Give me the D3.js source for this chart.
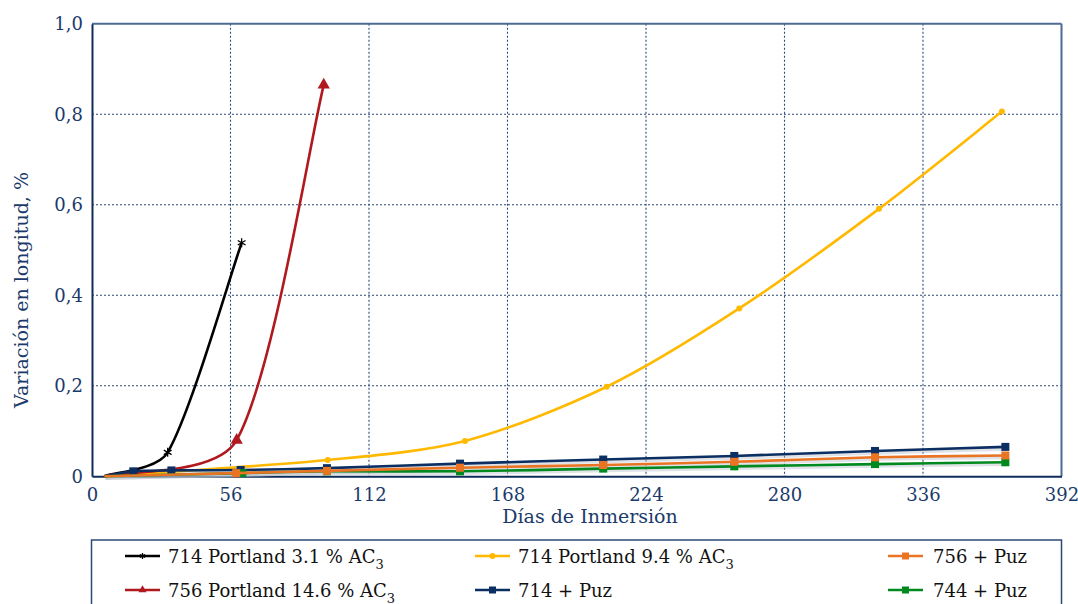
<!DOCTYPE html>
<html><head><meta charset="utf-8">
<script src="https://cdn.jsdelivr.net/npm/d3@7"></script>
<style>body{margin:0;background:#fff}svg{display:block}</style>
</head><body>
<svg id="c" width="1078" height="604"></svg>
<script>
// ---- data ----
const xTicks = [0, 56, 112, 168, 224, 280, 336, 392];
const yTicks = [0, 0.2, 0.4, 0.6, 0.8, 1.0];
const yTickLabels = ["0", "0,2", "0,4", "0,6", "0,8", "1,0"];
const xTitle = "Días de Inmersión";
const yTitle = "Variación en longitud, %";

const blackDays = [5, 30.6, 60.5];
const blackVals = [0, 0.053, 0.516];
const redDays = [5, 58.5, 93.7];
const redVals = [0, 0.080, 0.865];
const yellowDays = [5, 95.3, 150.8, 208.1, 261.7, 318.2, 367.9];
const yellowVals = [0, 0.036, 0.078, 0.198, 0.371, 0.591, 0.806];
const navyDays = [5, 16.7, 32.1, 60.1, 95, 148.8, 206.7, 259.7, 316.6, 369.3];
const navyVals = [0, 0.011, 0.013, 0.014, 0.018, 0.028, 0.037, 0.045, 0.056, 0.065];
const orangeDays = [5, 58.3, 95, 148.8, 206.7, 259.7, 316.6, 369.3];
const orangeVals = [0, 0.007, 0.012, 0.019, 0.025, 0.032, 0.042, 0.046];
const greenDays = [5, 60.8, 95, 148.8, 206.7, 259.7, 316.6, 369.3];
const greenVals = [0, 0.007, 0.011, 0.011, 0.017, 0.022, 0.027, 0.031];

const seriesNames = ["714 Portland 3.1 % AC", "714 Portland 9.4 % AC", "756 + Puz",
                     "756 Portland 14.6 % AC", "714 + Puz", "744 + Puz"];
const seriesSubs = ["3", "3", "", "3", "", ""];

// ---- build ----
const colors = {black:"#000000", yellow:"#ffb900", orange:"#e97424", red:"#b0191e", navy:"#0b2f62", green:"#00891f"};
const series = [
  {name:seriesNames[0], sub:seriesSubs[0], days:blackDays, vals:blackVals, color:colors.black, marker:"star"},
  {name:seriesNames[1], sub:seriesSubs[1], days:yellowDays, vals:yellowVals, color:colors.yellow, marker:"circle"},
  {name:seriesNames[3], sub:seriesSubs[3], days:redDays, vals:redVals, color:colors.red, marker:"triangle"},
  {name:seriesNames[4], sub:seriesSubs[4], days:navyDays, vals:navyVals, color:colors.navy, marker:"square", shadow:true},
  {name:seriesNames[5], sub:seriesSubs[5], days:greenDays, vals:greenVals, color:colors.green, marker:"square", shadow:true},
  {name:seriesNames[2], sub:seriesSubs[2], days:orangeDays, vals:orangeVals, color:colors.orange, marker:"square", shadow:true}
];
const legendOrder = [0, 1, 5, 2, 3, 4]; // indices into series, row-wise

const svg = d3.select("#c");
const X0 = 92, X1 = 1061.5, Y0 = 476.3, Y1 = 23.8;
const x = d3.scaleLinear().domain([0, 392]).range([X0, X1]);
const y = d3.scaleLinear().domain([0, 1]).range([Y0, Y1]);
const txtColor = "#1b3a6b";
const font = "'DejaVu Serif', serif";

// grid
const grid = svg.append("g");
grid.selectAll("line.v").data(xTicks.slice(1, -1)).join("line")
  .attr("x1", d => x(d)).attr("x2", d => x(d)).attr("y1", Y1).attr("y2", Y0)
  .attr("stroke", "#2a4a7a").attr("stroke-width", 1.1).attr("stroke-dasharray", "2,2");
grid.selectAll("line.h").data(yTicks.slice(1, -1)).join("line")
  .attr("x1", X0).attr("x2", X1).attr("y1", d => y(d)).attr("y2", d => y(d))
  .attr("stroke", "#2a4a7a").attr("stroke-width", 1.1).attr("stroke-dasharray", "2,2");

// frame
svg.append("line").attr("x1", X0).attr("x2", X1).attr("y1", Y1).attr("y2", Y1).attr("stroke", "#4d6b94").attr("stroke-width", 2);
svg.append("line").attr("x1", X1).attr("x2", X1).attr("y1", Y1).attr("y2", Y0).attr("stroke", "#4d6b94").attr("stroke-width", 2);

// axes
const xAxis = d3.axisBottom(x).tickValues(xTicks).tickSize(0).tickPadding(8).tickFormat(d3.format("d"));
const yAxis = d3.axisLeft(y).tickValues(yTicks).tickSize(0).tickPadding(9).tickFormat((d, i) => yTickLabels[i]);
const gx = svg.append("g").attr("transform", `translate(0,${Y0})`).call(xAxis);
const gy = svg.append("g").attr("transform", `translate(${X0},0)`).call(yAxis);
[gx, gy].forEach(g => {
  g.select(".domain").attr("stroke", "#0e2c5a").attr("stroke-width", 2);
  g.selectAll("text").attr("fill", txtColor).style("font-family", font).style("font-size", "18px");
});
gx.selectAll("text").attr("dy", "0.95em");

svg.append("text").attr("x", 590).attr("y", 523).attr("text-anchor", "middle")
  .attr("fill", txtColor).style("font-family", font).style("font-size", "19px").text(xTitle);
svg.append("text").attr("transform", "translate(28,290) rotate(-90)").attr("text-anchor", "middle")
  .attr("fill", txtColor).style("font-family", font).style("font-size", "19px").text(yTitle);

// smoothed line (spreadsheet-style bezier smoothing, arms capped by segment length)
function smoothPath(pts) {
  const p = pts.map(d => [x(d[0]), y(d[1])]);
  const n = p.length, path = d3.path();
  path.moveTo(p[0][0], p[0][1]);
  const T = p.map((q, i) => {
    const a = p[Math.max(0, i - 1)], b = p[Math.min(n - 1, i + 1)];
    return [(b[0] - a[0]) / 6, (b[1] - a[1]) / 6];
  });
  const cap = (t, L) => { const l = Math.hypot(t[0], t[1]); const m = 0.3 * L; return l > m ? [t[0]*m/l, t[1]*m/l] : t; };
  for (let i = 0; i < n - 1; i++) {
    const L = Math.hypot(p[i+1][0] - p[i][0], p[i+1][1] - p[i][1]);
    const t1 = cap(T[i], L), t2 = cap(T[i+1], L);
    path.bezierCurveTo(p[i][0] + t1[0], p[i][1] + t1[1], p[i+1][0] - t2[0], p[i+1][1] - t2[1], p[i+1][0], p[i+1][1]);
  }
  return path.toString();
}
function drawMarker(g, type, color, cx, cy, s) {
  if (type === "square") {
    g.append("rect").attr("x", cx - s/2).attr("y", cy - s/2).attr("width", s).attr("height", s).attr("fill", color);
  } else if (type === "circle") {
    g.append("circle").attr("cx", cx).attr("cy", cy).attr("r", s/2).attr("fill", color);
  } else if (type === "triangle") {
    g.append("path").attr("d", d3.symbol(d3.symbolTriangle, s*s*0.8)()).attr("transform", `translate(${cx},${cy})`).attr("fill", color);
  } else if (type === "star") {
    g.append("path").attr("d", d3.symbol(d3.symbolAsterisk, s*s*0.7)()).attr("transform", `translate(${cx},${cy})`)
      .attr("fill", "none").attr("stroke", color).attr("stroke-width", 1.3);
  }
}
const msize = {square: 8, circle: 6, triangle: 9, star: 9};
series.filter(s => s.shadow).forEach(s => {
  const pts = s.days.map((d, i) => [d, s.vals[i]]);
  svg.append("path").attr("d", smoothPath(pts)).attr("transform", "translate(1,2)")
    .attr("fill", "none").attr("stroke", "#b9c0cc").attr("stroke-opacity", 0.45).attr("stroke-width", 3.5);
});
series.forEach(s => {
  const pts = s.days.map((d, i) => [d, s.vals[i]]);
  const g = svg.append("g");
  g.append("path").attr("d", smoothPath(pts)).attr("fill", "none").attr("stroke", s.color).attr("stroke-width", 2.6);
  pts.slice(1).forEach(p => drawMarker(g, s.marker, s.color, x(p[0]), y(p[1]), msize[s.marker]));
});

// legend
const lg = svg.append("g");
lg.append("rect").attr("x", 91.5).attr("y", 540).attr("width", 970).attr("height", 90)
  .attr("fill", "none").attr("stroke", "#2b4a78").attr("stroke-width", 1.5);
const colX = [125, 475, 888];
const rowY = [556, 590];
legendOrder.forEach((si, k) => {
  const s = series[si];
  const lx = colX[k % 3], ly = rowY[Math.floor(k / 3)];
  lg.append("line").attr("x1", lx).attr("x2", lx + 35).attr("y1", ly).attr("y2", ly).attr("stroke", s.color).attr("stroke-width", 2.6);
  drawMarker(lg, s.marker, s.color, lx + 17.5, ly, s.marker === "square" ? 7 : 6);
  const t = lg.append("text").attr("x", lx + (k % 3 === 2 ? 45 : 43)).attr("y", ly + 7)
    .attr("fill", "#111").style("font-family", font).style("font-size", "18px").text(s.name);
  if (s.sub) t.append("tspan").attr("dy", 6).style("font-size", "13px").text(s.sub);
});
</script>
</body></html>
